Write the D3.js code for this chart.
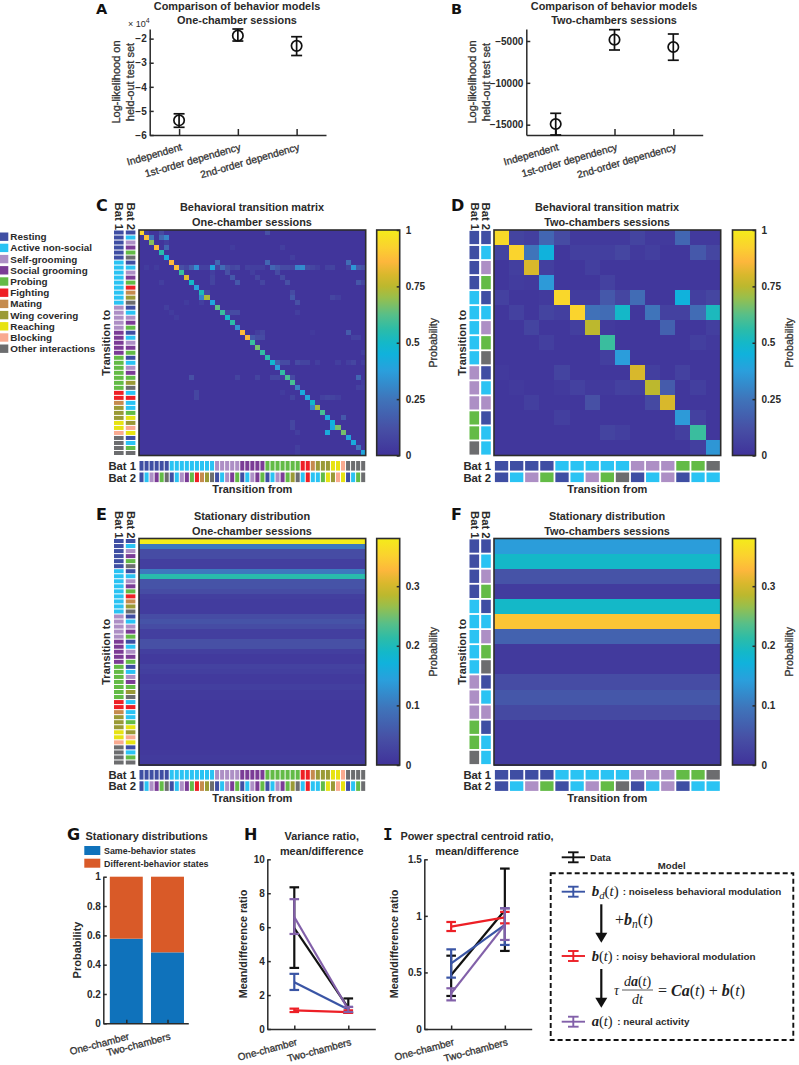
<!DOCTYPE html>
<html>
<head>
<meta charset="utf-8">
<script src="https://cdn.jsdelivr.net/npm/d3@7"></script>
<style>
  html, body { margin: 0; padding: 0; background: #fff; }
  svg { display: block; }
  text { font-family: "Liberation Sans", Arial, sans-serif; font-weight: bold; fill: #2a2a2a; }
  .letter { font-family: "DejaVu Sans", sans-serif; fill: #111; }
  .math { font-family: "Liberation Serif", serif; font-weight: normal; fill: #222; }
  .semi { font-weight: normal; fill: #333; stroke: #333; stroke-width: .3px; }
  .axis path, .axis line { stroke: #2a2a2a; }
</style>
</head>
<body>
<script>
// ---- data ----
var behaviors = ['Resting', 'Active non-social', 'Self-grooming', 'Social grooming', 'Probing', 'Fighting',
  'Mating', 'Wing covering', 'Reaching', 'Blocking', 'Other interactions'];
var behaviorColors = ['#3f4ea3', '#2ac3f3', '#ad8fc5', '#7b3c96', '#63bb46', '#ee2026',
  '#c58b4e', '#9a9a36', '#e7e312', '#f9aa90', '#6c6d6f'];

// state labels, index into behaviors
var bat1One = [0,0,0,0,0,0, 1,1,1,1,1,1,1,1,1, 2,2,2,2,2, 3,3,3,3,3, 4,4,4,4,4,4,4, 5,5, 6, 7,7,7, 8,8, 9, 10,10,10,10];
var bat2One = [0,1,2,3,4,10, 0,1,2,3,4,5,6,7,10, 0,1,2,3,4, 0,1,2,3,4, 0,1,2,3,4,7,10, 1,5, 1, 1,4,8, 7,9, 8, 0,1,4,10];
var bat1Two = [0,0,0,0, 1,1,1,1,1, 2,2,2, 4,4, 10];
var bat2Two = [0,1,2,4, 0,1,2,4,10, 0,1,2, 0,1,1];

// one-chamber transition matrix: diagonal, then the visible off-diagonal cells [to, from, p]
var diagOne = [.93,.88,.68,.87,.55,.42,.86,.87,.58,.82,.5,.38,.53,.73,.4,.63,.58,.5,.56,.33,.87,.85,.58,.66,.57,
  .55,.48,.38,.57,.6,.6,.28,.42,.4,.5,.72,.6,.42,.45,.66,.66,.4,.42,.25,.4];
var offDiagOne = [
  [1,2,.05],[1,5,.1],[1,26,.12],[2,3,.25],[2,5,.2],[2,6,.3],[3,6,.05],[4,6,.2],[4,19,.04],[4,29,.05],
  [7,16,.2],[7,26,.2],[7,42,.22],[6,31,.05],
  [8,2,.04],[8,4,.04],[8,9,.12],[8,10,.08],[8,11,.17],[8,12,.33],[8,13,.06],[8,14,.06],[8,15,.4],[8,16,.08],[8,17,.22],[8,18,.12],[8,19,.08],[8,20,.1],
  [8,22,.06],[8,23,.05],[8,24,.05],[8,25,.05],[8,27,.2],[8,28,.15],[8,29,.1],[8,30,.1],[8,31,.08],[8,32,.3],[8,33,.32],[8,34,.1],[8,35,.08],[8,36,.05],
  [8,38,.06],[8,39,.07],[8,42,.06],[8,43,.35],[8,44,.15],[8,45,.12],
  [9,15,.05],[9,18,.12],[9,23,.05],[9,28,.1],[10,15,.07],[10,19,.15],[10,24,.08],[10,29,.1],
  [11,5,.05],[11,15,.07],[11,20,.15],[11,25,.08],[11,30,.12],[11,44,.14],[11,45,.08],
  [13,14,.1],[13,31,.1],[14,13,.3],[14,31,.15],[14,39,.08],[14,40,.05],[15,32,.12],[15,13,.05],[15,10,.04],
  [16,6,.05],[17,18,.08],[17,19,.1],[17,20,.1],[17,7,.04],[17,32,.05],[18,8,.04],
  [21,24,.05],[21,25,.08],[21,42,.16],[22,23,.15],[22,24,.1],[22,25,.1],[22,43,.06],[22,44,.06],[21,35,.03],
  [27,28,.18],[27,29,.1],[27,30,.1],[27,32,.1],[27,33,.07],[27,34,.07],[27,36,.05],[27,40,.05],[27,42,.05],[27,43,.08],[27,45,.05],
  [30,11,.12],[30,20,.07],[30,24,.07],[30,27,.08],[30,28,.08],[30,29,.05],[30,31,.1],[30,44,.2],[31,45,.05],[32,44,.06],[32,45,.06],[25,45,.05],
  [33,12,.08],[33,29,.04],[34,12,.08],[34,31,.07],[34,37,.06],[34,38,.08],[34,39,.07],[34,40,.05],
  [36,35,.3],[35,36,.05],[38,41,.15],[39,31,.08],[40,31,.08],[40,39,.42],[41,38,.42],[41,32,.05],[44,32,.05],[45,32,.04]
];

// two-chambers transition matrix, rows are "transition to"
var matrixTwo = [
  [.95,.07,.05,.2,.1,.03,.03,.03,.03,.07,.03,.03,.2,.03,.03],
  [.07,.93,.25,.45,.02,.05,.05,.05,.08,.03,.05,.02,.02,.15,.08],
  [.02,.05,.8,.05,.02,.02,.05,.02,.02,.02,.02,.02,.02,.02,.02],
  [.02,.04,.03,.36,.02,.02,.02,.06,.02,.02,.02,.02,.02,.02,.02],
  [.06,.02,.02,.03,.94,.04,.04,.15,.08,.22,.02,.02,.45,.05,.08],
  [.02,.06,.02,.07,.05,.93,.24,.22,.5,.02,.25,.06,.06,.22,.52],
  [.02,.02,.07,.02,.02,.05,.75,.03,.02,.02,.02,.18,.02,.02,.05],
  [.02,.02,.02,.05,.02,.02,.02,.58,.02,.02,.02,.02,.02,.05,.03],
  [.02,.02,.02,.02,.02,.02,.02,.05,.37,.02,.02,.02,.02,.02,.02],
  [.03,.02,.02,.02,.07,.02,.02,.02,.02,.8,.05,.02,.06,.02,.02],
  [.02,.03,.02,.02,.03,.06,.03,.03,.06,.05,.75,.16,.02,.05,.02],
  [.02,.02,.05,.02,.02,.02,.12,.02,.02,.02,.09,.8,.02,.02,.02],
  [.02,.02,.02,.02,.05,.02,.02,.02,.02,.02,.02,.02,.36,.06,.02],
  [.02,.02,.02,.02,.02,.02,.02,.07,.05,.02,.02,.02,.05,.58,.02],
  [.02,.02,.02,.02,.02,.02,.02,.02,.02,.02,.02,.02,.02,.05,.35]
];

// stationary distributions, one value per state
var stationaryOne = [.38,.1,.04,.04,.02,.02,.1,.21,.05,.05,.04,.02,.015,.015,.015,.04,.05,.04,.02,.02,.045,.045,.02,.012,.012,
  .025,.02,.012,.012,.02,.012,.012,.008,.008,.008,.008,.008,.008,.008,.008,.008,.008,.01,.014,.01];
var stationaryTwo = [.14,.19,.05,.015,.19,.34,.07,.012,.012,.04,.055,.035,.012,.012,.012];

// model comparison [mean, high, low]
var modelNames = ['Independent', '1st-order dependency', '2nd-order dependency'];
var modelsOne = [[-5.39,-5.12,-5.68],[-1.875,-1.6,-2.1],[-2.3,-1.92,-2.7]];
var modelsTwo = [[-14920,-13640,-16230],[-4840,-3650,-6075],[-5717,-4164,-7300]];

// G
var sessionNames = ['One-chamber', 'Two-chambers'];
var sameBehavior = [.577, .484];

// H and I, per session [mean, high, low]
var seriesColors = {data: '#111111', noiseless: '#3a55a5', noisy: '#ed1f26', neural: '#8260a9'};
var varianceRatio = {
  data: [[5.95,8.35,3.6],[1.25,1.8,.95]],
  noiseless: [[2.75,3.25,2.3],[1.15,1.3,1.0]],
  noisy: [[1.1,1.2,1.0],[1.0,1.1,.95]],
  neural: [[6.6,7.65,5.6],[1.15,1.3,1.0]]
};
var centroidRatio = {
  data: [[.477,.648,.292],[1.05,1.418,.69]],
  noiseless: [[.58,.704,.454],[.92,1.067,.743]],
  noisy: [[.905,.946,.866],[.987,1.035,.934]],
  neural: [[.315,.36,.253],[.92,1.067,.787]]
};

// colormap
var cmapStops = [0,.12,.25,.375,.45,.5,.56,.625,.7,.75,.8,.86,.92,1];
var cmapColors = ['#40329a','#4750a5','#3f74ba','#2a9fdc','#10b2dc','#14b8c8','#2cbca8','#58bf88','#98bf4c','#bcb82e','#d8b82c','#fdb73c','#fbd030','#f4ec1a'];

// ---- page ----
var W = 799, H = 1065;
var svg = d3.select('body').append('svg').attr('width', W).attr('height', H);

function label(x, y, str, size, anchor, rotate) {
  return svg.append('text')
    .attr('transform', `translate(${x},${y})` + (rotate ? ` rotate(${rotate})` : ''))
    .attr('text-anchor', anchor || 'middle')
    .attr('font-size', size)
    .text(str);
}

function letter(x, y, str, family, size) {
  var t = svg.append('text').attr('class', 'letter').attr('x', x).attr('y', y).attr('font-size', size || 16).text(str);
  if (family) t.style('font-family', family);
}

var TITLE = 10.9, TICK = 10, AXIS = 11;

function styleAxis(g, w) {
  g.attr('class', 'axis').attr('font-size', TICK).attr('font-family', null).attr('font-weight', 'bold');
  g.selectAll('path, line').attr('stroke-width', w || 1.5).attr('stroke', '#2a2a2a');
  g.selectAll('text').attr('fill', '#2a2a2a').style('fill', '#2a2a2a');
}

function rotatedLabels(gx, angle, dx, dy) {
  gx.selectAll('.tick text')
    .attr('text-anchor', 'end')
    .attr('transform', `translate(${dx},${dy}) rotate(${angle})`)
    .attr('x', 0).attr('y', 0).attr('dy', 0);
}

// ---- A, B ----
function modelPanel(box, values, ticks, fmt) {
  var x = d3.scalePoint().domain(modelNames).range([box.left, box.right]).padding(.5);
  var y = d3.scaleLinear().domain(box.domain).range([box.bottom, box.top]);

  var gx = svg.append('g').attr('transform', `translate(0,${box.bottom})`)
    .call(d3.axisBottom(x).tickSize(-6).tickSizeOuter(0));
  styleAxis(gx);
  gx.selectAll('.tick text').attr('class', 'semi').style('font-size', '10.2px').style('fill', null);
  rotatedLabels(gx, -16, 3, 15);

  var gy = svg.append('g').attr('transform', `translate(${box.left},0)`)
    .call(d3.axisLeft(y).tickValues(ticks).tickFormat(fmt).tickSize(-4).tickPadding(3).tickSizeOuter(0));
  styleAxis(gy);

  var g = svg.selectAll(null).data(values).enter().append('g')
    .attr('transform', (d, i) => `translate(${x(modelNames[i])},0)`)
    .attr('fill', 'none').attr('stroke', '#111').attr('stroke-width', 1.7);
  g.append('line').attr('y1', d => y(d[1])).attr('y2', d => y(d[2]));
  g.append('line').attr('x1', -5.5).attr('x2', 5.5).attr('y1', d => y(d[1])).attr('y2', d => y(d[1]));
  g.append('line').attr('x1', -5.5).attr('x2', 5.5).attr('y1', d => y(d[2])).attr('y2', d => y(d[2]));
  g.append('circle').attr('cy', d => y(d[0])).attr('r', 5.2).attr('fill', 'none');
}

modelPanel({left: 149.7, right: 326, top: 29, bottom: 135, domain: [-6, -1.6]}, modelsOne, [-6,-5,-4,-3,-2], d3.format('d'));
modelPanel({left: 526.3, right: 702.7, top: 29, bottom: 135, domain: [-16233, -3566]}, modelsTwo, [-15000,-10000,-5000], d3.format('d'));

label(237, 10, 'Comparison of behavior models', TITLE);
label(237, 23.5, 'One-chamber sessions', TITLE);
label(614, 10, 'Comparison of behavior models', TITLE);
label(614, 23.5, 'Two-chambers sessions', TITLE);
label(120, 82, 'Log-likelihood on', AXIS, 'middle', -90).attr('class', 'semi');
label(134, 82, 'held-out test set', AXIS, 'middle', -90).attr('class', 'semi');
label(476, 82, 'Log-likelihood on', AXIS, 'middle', -90).attr('class', 'semi');
label(490, 82, 'held-out test set', AXIS, 'middle', -90).attr('class', 'semi');
var exp10 = svg.append('text').attr('x', 128).attr('y', 27).attr('font-size', 9).style('font-weight', 'normal');
exp10.append('tspan').text('\u00d7 10');
exp10.append('tspan').attr('dy', -4).attr('font-size', 7).text('4');

letter(96, 13.5, 'A', null, 14.5);
letter(451, 13.5, 'B', null, 14.5);

// ---- C, D, E, F ----
var color = d3.scaleLinear().domain(cmapStops).range(cmapColors);

function buildOneChamber() {
  var m = d3.range(45).map(i => d3.range(45).map(j => i === j ? diagOne[i] : .012));
  offDiagOne.forEach(function(c) { m[c[0] - 1][c[1] - 1] = c[2]; });
  return m;
}

function repeatRows(values) {
  return values.map(v => values.map(() => v));
}

function heatmap(box, matrix, bat1, bat2, maxValue, ticks, strip) {
  var n = matrix.length;
  var idx = d3.range(n);
  var x = d3.scaleBand().domain(idx).range([box.left, box.right]);
  var y = d3.scaleBand().domain(idx).range([box.top, box.bottom]);
  var c = d3.scaleLinear().domain([0, maxValue]).range([0, 1]);

  var cells = [];
  matrix.forEach((row, i) => row.forEach((v, j) => cells.push({i: i, j: j, v: v})));
  svg.append('g').attr('shape-rendering', 'crispEdges').selectAll('rect').data(cells).enter().append('rect')
    .attr('x', d => x(d.j)).attr('y', d => y(d.i))
    .attr('width', x.bandwidth() + .5).attr('height', y.bandwidth() + .5)
    .attr('fill', d => color(c(d.v)));
  svg.append('rect')
    .attr('x', box.left).attr('y', box.top)
    .attr('width', box.right - box.left).attr('height', box.bottom - box.top)
    .attr('fill', 'none').attr('stroke', '#2c2c2c').attr('stroke-width', 1.6);

  // behavior strips along the left and bottom
  var gap = strip.gap;
  [[bat1, strip.xBat1], [bat2, strip.xBat2]].forEach(function(s) {
    svg.append('g').selectAll('rect').data(s[0]).enter().append('rect')
      .attr('x', s[1]).attr('width', 9.6)
      .attr('y', (d, i) => y(i) + gap / 2).attr('height', y.bandwidth() - gap)
      .attr('fill', d => behaviorColors[d]);
  });
  [[bat1, strip.yBat1], [bat2, strip.yBat2]].forEach(function(s) {
    svg.append('g').selectAll('rect').data(s[0]).enter().append('rect')
      .attr('y', s[1]).attr('height', 9.6)
      .attr('x', (d, i) => x(i) + gap / 2).attr('width', x.bandwidth() - gap)
      .attr('fill', d => behaviorColors[d]);
  });

  // colorbar
  var cb = d3.scaleLinear().domain([0, maxValue]).range([box.bottom, box.top]);
  var defsId = 'grad' + box.id;
  var grad = svg.append('defs').append('linearGradient').attr('id', defsId)
    .attr('x1', 0).attr('x2', 0).attr('y1', 1).attr('y2', 0);
  cmapStops.forEach(function(s, i) {
    grad.append('stop').attr('offset', s).attr('stop-color', cmapColors[i]);
  });
  svg.append('rect')
    .attr('x', box.barLeft).attr('y', box.top)
    .attr('width', 23).attr('height', box.bottom - box.top)
    .attr('fill', `url(#${defsId})`).attr('stroke', '#2c2c2c').attr('stroke-width', 1.6);
  var gb = svg.append('g').attr('transform', `translate(${box.barLeft + 23},0)`)
    .call(d3.axisRight(cb).tickValues(ticks).tickFormat(d => String(d)).tickSize(-3).tickPadding(6).tickSizeOuter(0));
  gb.select('path').remove();
  styleAxis(gb);
  label(box.barLeft + 60, (box.top + box.bottom) / 2, 'Probability', 10.6, 'middle', -90).attr('class', 'semi');

  // side labels
  label(strip.xBat1 + 1, box.top - 27.5, 'Bat 1', 11.3, 'start', 90);
  label(strip.xBat2 + 1, box.top - 27.5, 'Bat 2', 11.3, 'start', 90);
  label(box.left - 3, strip.yBat1 + 9, 'Bat 1', 11.3, 'end');
  label(box.left - 3, strip.yBat2 + 9, 'Bat 2', 11.3, 'end');
  label(strip.xBat1 - 4, (box.top + box.bottom) / 2, 'Transition to', AXIS, 'middle', -90);
  label((box.left + box.right) / 2, strip.yBat2 + 20.5, 'Transition from', AXIS);
}

var heatTicks = [0, .25, .5, .75, 1];
var distTicks = [0, .1, .2, .3];
heatmap({id: 'c', left: 139, right: 365.7, top: 230, bottom: 455.5, barLeft: 376.7},
  buildOneChamber(), bat1One, bat2One, 1, heatTicks, {gap: 1, xBat1: 114, xBat2: 125.8, yBat1: 461, yBat2: 472.5});
heatmap({id: 'd', left: 494, right: 720.7, top: 230, bottom: 455.5, barLeft: 732.5},
  matrixTwo, bat1Two, bat2Two, 1, heatTicks, {gap: 1.8, xBat1: 469.5, xBat2: 481.2, yBat1: 461, yBat2: 472.5});
heatmap({id: 'e', left: 139, right: 365.7, top: 538.5, bottom: 765, barLeft: 376.7},
  repeatRows(stationaryOne), bat1One, bat2One, .38, distTicks, {gap: 1, xBat1: 114, xBat2: 125.8, yBat1: 770, yBat2: 781.3});
heatmap({id: 'f', left: 494, right: 720.7, top: 538.5, bottom: 765, barLeft: 732.5},
  repeatRows(stationaryTwo), bat1Two, bat2Two, .38, distTicks, {gap: 1.8, xBat1: 469.5, xBat2: 481.2, yBat1: 770, yBat2: 781.3});

label(252, 211, 'Behavioral transition matrix', TITLE);
label(252, 226, 'One-chamber sessions', TITLE);
label(607, 211, 'Behavioral transition matrix', TITLE);
label(607, 226, 'Two-chambers sessions', TITLE);
label(252, 520, 'Stationary distribution', TITLE);
label(252, 535, 'One-chamber sessions', TITLE);
label(607, 520, 'Stationary distribution', TITLE);
label(607, 535, 'Two-chambers sessions', TITLE);
letter(96, 211, 'C');
letter(451, 211, 'D');
letter(96, 520, 'E');
letter(451, 520, 'F');

// behavior legend
var legendY = d3.scalePoint().domain(behaviors).range([236.7, 348.7]);
var legend = svg.append('g').selectAll('g').data(behaviors).enter().append('g')
  .attr('transform', d => `translate(0,${legendY(d)})`);
legend.append('rect').attr('x', 0).attr('y', -4.2).attr('width', 8.3).attr('height', 8.4)
  .attr('fill', (d, i) => behaviorColors[i]);
legend.append('text').attr('x', 10.3).attr('y', 3.5).attr('font-size', 9.9).text(d => d);

// ---- G ----
var gx = d3.scaleLinear().domain([.442, 2.505]).range([103.3, 188.3]);
var gy = d3.scaleLinear().domain([0, 1]).range([1023.3, 876.7]);
svg.append('g').selectAll('rect').data(sameBehavior).enter().append('rect')
  .attr('x', (d, i) => gx(i + 1 - .4)).attr('width', gx(.8) - gx(0))
  .attr('y', d => gy(d)).attr('height', d => gy(0) - gy(d)).attr('fill', '#0f72bb');
svg.append('g').selectAll('rect').data(sameBehavior).enter().append('rect')
  .attr('x', (d, i) => gx(i + 1 - .4)).attr('width', gx(.8) - gx(0))
  .attr('y', gy(1)).attr('height', d => gy(d) - gy(1)).attr('fill', '#d95a28');
function sessionAxes(x, y, yTicks, fmt) {
  var ax = svg.append('g').attr('transform', `translate(0,${y.range()[0]})`)
    .call(d3.axisBottom(x).tickValues([1, 2]).tickFormat((d, i) => sessionNames[i]).tickSize(-3.5).tickSizeOuter(0));
  styleAxis(ax);
  ax.selectAll('.tick text').attr('class', 'semi').style('font-size', '10px').style('fill', null);
  rotatedLabels(ax, -15, 3, 16);
  var ay = svg.append('g').attr('transform', `translate(${x.range()[0]},0)`)
    .call(d3.axisLeft(y).tickValues(yTicks).tickFormat(fmt).tickSize(-3.5).tickPadding(2.5).tickSizeOuter(0));
  styleAxis(ay);
}
sessionAxes(gx, gy, [0, .2, .4, .6, .8, 1], d => String(d));
label(81, 950, 'Probability', AXIS, 'middle', -90);
label(146.7, 840, 'Stationary distributions', TITLE);
svg.append('rect').attr('x', 84.3).attr('y', 846).attr('width', 16).attr('height', 9).attr('fill', '#0f72bb');
svg.append('rect').attr('x', 84.3).attr('y', 858.7).attr('width', 16).attr('height', 9).attr('fill', '#d95a28');
label(104, 854, 'Same-behavior states', 8.9, 'start');
label(104, 867, 'Different-behavior states', 8.9, 'start');
letter(67, 840, 'G');

// ---- H, I ----
function ratioPanel(box, series, yTicks, maxValue) {
  var x = d3.scaleLinear().domain([.5, 2.5]).range([box.left, box.right]);
  var y = d3.scaleLinear().domain([0, maxValue]).range([box.bottom, box.top]);
  sessionAxes(x, y, yTicks, d => String(d));
  var line = d3.line().x((d, i) => x(i + 1)).y(d => y(d[0]));
  ['data', 'noiseless', 'noisy', 'neural'].forEach(function(key) {
    var rows = series[key];
    var g = svg.append('g').attr('stroke', seriesColors[key]).attr('fill', 'none').attr('stroke-width', 2.2);
    g.append('path').attr('d', line(rows));
    rows.forEach(function(r, i) {
      var cx = x(i + 1);
      g.append('line').attr('x1', cx).attr('x2', cx).attr('y1', y(r[1])).attr('y2', y(r[2]));
      g.append('line').attr('x1', cx - 4.8).attr('x2', cx + 4.8).attr('y1', y(r[1])).attr('y2', y(r[1]));
      g.append('line').attr('x1', cx - 4.8).attr('x2', cx + 4.8).attr('y1', y(r[2])).attr('y2', y(r[2]));
    });
  });
}
ratioPanel({left: 267.3, right: 375.3, top: 859.3, bottom: 1029}, varianceRatio, [0, 2, 4, 6, 8, 10], 10);
ratioPanel({left: 424.3, right: 531.7, top: 859.3, bottom: 1029}, centroidRatio, [0, .5, 1, 1.5], 1.5);

label(321.7, 840, 'Variance ratio,', TITLE);
label(321.7, 855, 'mean/difference', TITLE);
label(247, 944, 'Mean/difference ratio', 10.8, 'middle', -90);
label(477, 840, 'Power spectral centroid ratio,', TITLE);
label(477, 855, 'mean/difference', TITLE);
label(398, 944, 'Mean/difference ratio', 10.8, 'middle', -90);
letter(244, 840, 'H');
letter(383, 840, 'I', '"DejaVu Sans Mono"');

// ---- model schematic ----
function keyGlyph(y, c) {
  var g = svg.append('g').attr('stroke', c).attr('stroke-width', 1.9);
  g.append('line').attr('x1', 561.7).attr('x2', 585).attr('y1', y).attr('y2', y);
  g.append('line').attr('x1', 573.3).attr('x2', 573.3).attr('y1', y - 5).attr('y2', y + 5);
  g.append('line').attr('x1', 568).attr('x2', 578.6).attr('y1', y - 5).attr('y2', y - 5);
  g.append('line').attr('x1', 568).attr('x2', 578.6).attr('y1', y + 5).attr('y2', y + 5);
}
keyGlyph(857.3, seriesColors.data);
keyGlyph(891.7, seriesColors.noiseless);
keyGlyph(956, seriesColors.noisy);
keyGlyph(1021.7, seriesColors.neural);

label(590, 860.5, 'Data', 9.6, 'start');
label(671.7, 869, 'Model', 9.6);
svg.append('rect').attr('x', 550.7).attr('y', 873.3).attr('width', 242.6).attr('height', 166.7)
  .attr('fill', 'none').attr('stroke', '#111').attr('stroke-width', 1.9).attr('stroke-dasharray', '5 3');

function mathText(x, y, size, parts, anchor) {
  var t = svg.append('text').attr('class', 'math').attr('x', x).attr('y', y)
    .attr('font-size', size).attr('text-anchor', anchor || 'start');
  parts.forEach(function(p) {
    var s = t.append('tspan').text(p.t);
    if (p.v) s.style('font-weight', 'bold').style('font-style', 'italic');
    if (p.i) s.style('font-style', 'italic');
    if (p.sub) s.attr('dy', 3).attr('font-size', size * .72).style('font-style', 'italic');
    if (p.up) s.attr('dy', -3);
  });
}
var bVec = {t: 'b', v: 1}, aVec = {t: 'a', v: 1};
var ofT = [{t: '('}, {t: 't', i: 1}, {t: ')'}];
mathText(591.7, 896, 15, [bVec, {t: 'd', sub: 1}, {t: '(', up: 1}, {t: 't', i: 1}, {t: ')'}]);
mathText(591.7, 960.5, 14.5, [bVec].concat(ofT));
mathText(591.7, 1026, 14.5, [aVec].concat(ofT));
label(622.7, 895, ': noiseless behavioral modulation', 9.85, 'start');
label(616, 959.5, ': noisy behavioral modulation', 9.85, 'start');
label(617.3, 1025, ': neural activity', 9.85, 'start');

mathText(615, 925, 16, [{t: '+'}, bVec, {t: 'n', sub: 1}, {t: '(', up: 1}, {t: 't', i: 1}, {t: ')'}]);
mathText(614, 995, 14, [{t: '\u03c4', i: 1}]);
mathText(637.5, 986, 14, [{t: 'd', i: 1}, aVec].concat(ofT), 'middle');
svg.append('line').attr('x1', 622).attr('x2', 653).attr('y1', 990).attr('y2', 990).attr('stroke', '#333').attr('stroke-width', .8);
mathText(637.5, 1004, 14, [{t: 'dt', i: 1}], 'middle');
mathText(658, 995.5, 16, [{t: '= '}, {t: 'Ca', v: 1}, {t: '('}, {t: 't', i: 1}, {t: ') + '}, bVec].concat(ofT));

function arrow(x, y1, y2) {
  svg.append('line').attr('x1', x).attr('x2', x).attr('y1', y1).attr('y2', y2 - 9).attr('stroke', '#111').attr('stroke-width', 2.2);
  svg.append('path').attr('d', d3.line()([[x - 6, y2 - 10], [x + 6, y2 - 10], [x, y2]]) + 'Z').attr('fill', '#111');
}
arrow(601.3, 904.3, 942.7);
arrow(601.3, 969, 1007.7);
</script>
</body>
</html>
